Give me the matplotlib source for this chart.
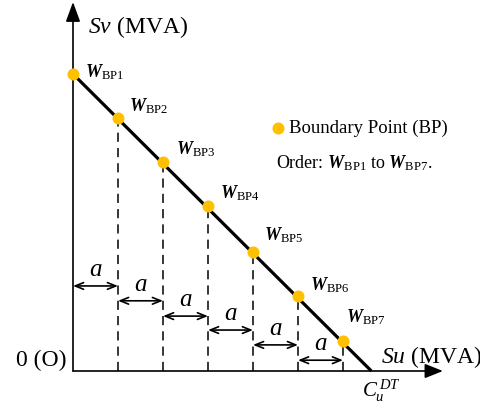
import matplotlib
matplotlib.use("Agg")
import matplotlib.pyplot as plt

plt.rcParams['font.family'] = ['Liberation Serif', 'DejaVu Serif']
plt.rcParams['mathtext.fontset'] = 'custom'
plt.rcParams['mathtext.rm'] = 'Liberation Serif'
plt.rcParams['mathtext.it'] = 'Liberation Serif:italic'
plt.rcParams['mathtext.bf'] = 'Liberation Serif:bold'
plt.rcParams['mathtext.bfit'] = 'Liberation Serif:bold:italic'

# boundary points (a = 1 unit of S_u)
bp_names = ['BP1', 'BP2', 'BP3', 'BP4', 'BP5', 'BP6', 'BP7']
bp_x = [0, 1, 2, 3, 4, 5, 6]
bp_y = [6.6, 5.62, 4.64, 3.66, 2.64, 1.66, 0.66]
c_dt = 6.63  # where the line hits the S_u axis
arrow_y = [1.89, 1.56, 1.22, 0.91, 0.58, 0.24]

GOLD = '#FFC000'
PX = 0.72  # points per pixel at dpi 100

fig = plt.figure(figsize=(4.81, 4.04), dpi=100)
ax = fig.add_axes([0, 0, 1, 1])
ax.set_xlim(-73 / 45, 408 / 45)
ax.set_ylim(-33 / 45, 371 / 45)
ax.axis('off')


def px(x, y):
    # pixel position in the picture -> data coords
    return (x - 73) / 45, (371 - y) / 45


# axes with arrow heads
ax.annotate('', xy=(0, 8.2), xytext=(0, 0),
            arrowprops=dict(arrowstyle='-|>,head_length=0.6,head_width=0.22',
                            mutation_scale=20, lw=1.2, color='black',
                            shrinkA=0, shrinkB=0))
ax.annotate('', xy=(8.22, 0), xytext=(0, 0),
            arrowprops=dict(arrowstyle='-|>,head_length=0.55,head_width=0.22',
                            mutation_scale=20, lw=1.2, color='black',
                            shrinkA=0, shrinkB=0))

# boundary line
ax.plot([0, c_dt], [bp_y[0], 0], color='black', lw=2.3, solid_capstyle='butt', zorder=3)

# dashed drops
for x, y in zip(bp_x[1:], bp_y[1:]):
    ax.plot([x, x], [0, y], color='black', lw=1.1, ls=(0, (6, 4)), zorder=2)

# spacing arrows "a"
for i, y in enumerate(arrow_y):
    ax.annotate('', xy=(bp_x[i + 1], y), xytext=(bp_x[i], y),
                arrowprops=dict(arrowstyle='<->,head_length=0.5,head_width=0.2',
                                mutation_scale=12, lw=1.2, color='black',
                                shrinkA=0, shrinkB=0))
    ax.text((bp_x[i] + bp_x[i + 1]) / 2, y + 0.35, '$a$', fontsize=18,
            ha='center', va='center')

# points and labels
ax.scatter(bp_x, bp_y, s=75, color=GOLD, zorder=4, linewidths=0)
offsets = [(12, 2), (11, 12), (13, 13), (12, 13), (11, 17), (12, 11), (3, 24)]
for name, x, y, (dx, dy) in zip(bp_names, bp_x, bp_y, offsets):
    ax.annotate(r'$\mathbfit{W}_{\mathrm{%s}}$' % name, (x, y),
                xytext=(dx * PX, dy * PX), textcoords='offset points',
                fontsize=13, ha='left', va='center')

# axis titles
ax.text(*px(88, 27), '$Sv$ (MVA)', fontsize=17, ha='left', va='center')
ax.text(*px(381, 357), '$Su$ (MVA)', fontsize=17, ha='left', va='center')
ax.text(*px(66, 360), '0 (O)', fontsize=17, ha='right', va='center')
ax.text(*px(362, 391), '$C_u^{\\,DT}$', fontsize=15, ha='left', va='center')

# legend
ax.scatter(*px(278, 128), s=75, color=GOLD, linewidths=0)
ax.text(*px(289, 128), 'Boundary Point (BP)', fontsize=13.5,
        ha='left', va='center')
ax.text(*px(276, 163),
        r'Order: $\mathbfit{W}_{\mathrm{BP1}}$ to $\mathbfit{W}_{\mathrm{BP7}}$.',
        fontsize=13, ha='left', va='center')

fig.savefig('out.png', dpi=100)
